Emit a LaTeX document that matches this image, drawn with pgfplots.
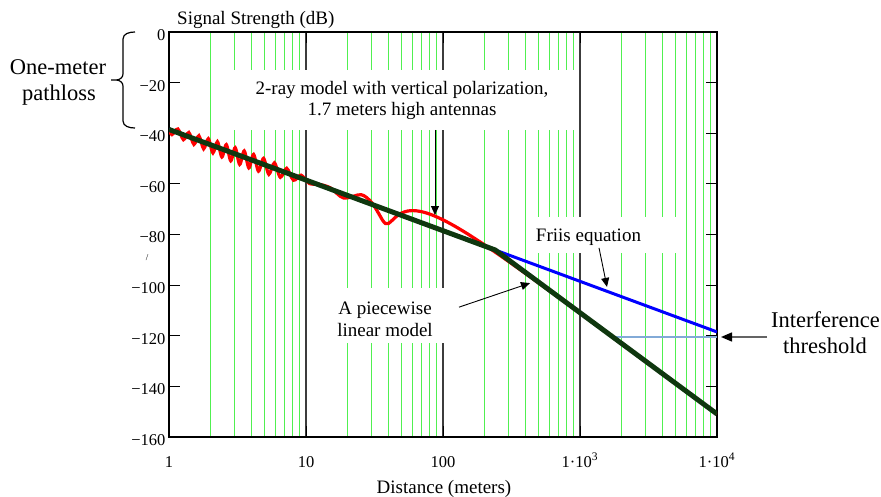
\documentclass[border=0pt]{standalone}
\usepackage{fontspec}
\setmainfont{Liberation Serif}
\usepackage{pgfplots}
\pgfplotsset{compat=1.18}
\usetikzlibrary{arrows.meta}
\definecolor{gridgreen}{RGB}{80,240,80}
\definecolor{decgray}{RGB}{60,60,60}
\definecolor{pwgreen}{RGB}{15,55,15}
\definecolor{thrblue}{RGB}{130,170,215}
\definecolor{arrgray}{RGB}{100,100,100}
\newcommand\annfont{\fontsize{19}{22}\selectfont}
\newcommand\bigfont{\fontsize{22.5}{26}\selectfont}
\begin{document}
\begin{tikzpicture}[x=1pt,y=1pt]
\useasboundingbox (0,0) rectangle (881,496);
\begin{axis}[
  at={(169pt,59pt)}, anchor=south west,
  scale only axis, width=548pt, height=405pt,
  xmode=log, log basis x=10, xmin=1, xmax=10000, ymin=-160, ymax=0,
  xtick={1,10,100,1000,10000},
  xticklabels={1,10,100,1·10\textsuperscript{3},1·10\textsuperscript{4}},
  minor xtick={2,3,4,5,6,7,8,9,20,30,40,50,60,70,80,90,200,300,400,500,600,700,800,900,2000,3000,4000,5000,6000,7000,8000,9000},
  ytick={-160,-140,-120,-100,-80,-60,-40,-20,0},
  yticklabels={−160,−140,−120,−100,−80,−60,−40,−20,0},
  xmajorgrids, xminorgrids,
  major grid style={draw=decgray, line width=1.2pt},
  minor grid style={draw=gridgreen, line width=1pt},
  tick align=inside, major tick length=11pt, minor tick length=0pt,
  tick style={black, line width=1pt},
  axis line style={line width=1.2pt},
  ticklabel style={font=\fontsize{16.5}{18}\selectfont},
  xticklabel style={anchor=base, yshift=-30pt},
  yticklabel style={yshift=-3pt},
]
\addplot[red, line width=3.2pt, smooth, tension=0.5] coordinates {
(1,-38.47) (1.0506,-40.55) (1.1606,-38.32) (1.2753,-42.55) (1.3951,-39.70)
(1.5204,-44.40) (1.6522,-40.97) (1.7907,-46.14) (1.937,-42.17) (2.0921,-47.79)
(2.2569,-43.34) (2.4325,-49.37) (2.6208,-44.50) (2.8236,-50.88) (3.0428,-45.71)
(3.2808,-52.33) (3.5413,-46.98) (3.8278,-53.70) (4.1452,-48.36) (4.5002,-55.00)
(4.9004,-49.91) (5.3562,-56.23) (5.8816,-51.70) (6.4958,-57.41) (7.2251,-53.85)
(8.1082,-58.58) (9.2026,-56.56) (10.599,-59.87) (12.447,-60.18) (15.02,-61.53)
(18.861,-65.60) (25.237,-64.26) (30,-67.23) (34,-71.78) (36,-74.15)
(37.95,-75.62) (40,-75.65) (43,-74.18) (46,-72.73) (50,-71.49)
(55,-70.75) (60,-70.56) (65,-70.69) (70,-71.00) (76,-71.53)
(85,-72.48) (100,-74.21) (120,-76.50) (150,-79.64) (200,-84.03)
(250,-87.60) (300,-90.59) (400,-95.39) (500,-99.16) (700,-104.90)
(1000,-111.02) (2000,-122.99) (5000,-138.86) (10000,-150.90)
};
\addplot[thrblue, line width=1.5pt] coordinates {(1800,-120.5) (10000,-120.5)};
\addplot[blue, line width=3pt] coordinates {(1,-38.5) (10000,-118.5)};
\addplot[pwgreen, line width=5pt] coordinates {(1,-38.5) (240,-86.1) (10000,-150.9)};
\coordinate (r1) at (axis cs:87.4,-38.7);
\coordinate (r2) at (axis cs:87.4,-72.3);
\coordinate (f1) at (axis cs:1377,-85.3);
\coordinate (f2) at (axis cs:1574,-100.7);
\coordinate (p1) at (axis cs:130.9,-108.7);
\coordinate (p2) at (axis cs:431.6,-99.2);
\end{axis}
% text boxes
\fill[white] (222,366) rectangle (575,426);
\fill[white] (530,243) rectangle (685,279);
\fill[white] (322,153) rectangle (465,208);
\node[anchor=base, inner sep=0, font=\annfont] at (402,401) {2-ray model with vertical polarization,};
\node[anchor=base, inner sep=0, font=\annfont] at (402,380) {1.7 meters high antennas};
\node[anchor=base, inner sep=0, font=\annfont] at (588.5,254) {Friis equation};
\node[anchor=base, inner sep=0, font=\annfont] at (385,182) {A piecewise};
\node[anchor=base, inner sep=0, font=\annfont] at (385,160) {linear model};
\draw[line width=0.9pt, -{Triangle[length=9pt,width=8pt]}] (r1) -- (r2);
\draw[line width=0.9pt, -{Triangle[length=9pt,width=8pt]}] (f1) -- (f2);
\draw[line width=0.9pt, -{Triangle[length=9pt,width=8pt]}] (p1) -- (p2);
% outside labels
\node[anchor=base, inner sep=0, font=\bigfont] at (825.5,169) {Interference};
\node[anchor=base, inner sep=0, font=\bigfont] at (825,143) {threshold};
\draw[arrgray, line width=1.5pt, -{Triangle[length=11pt,width=9pt,color=black]}] (767,159) -- (721,159);
\node[anchor=base, inner sep=0, font=\bigfont] at (58,421) {One-meter};
\node[anchor=base, inner sep=0, font=\bigfont] at (59,395) {pathloss};
\draw[line width=1.2pt] (135,464) to[out=180,in=90] (123,457) -- (123,422)
  to[out=-90,in=0] (116,416) -- (111,416) -- (116,416)
  to[out=0,in=90] (123,410) -- (123,375) to[out=-90,in=180] (135,368);
\node[anchor=base west, inner sep=0, font=\annfont] at (177,471) {Signal Strength (dB)};
\node[anchor=base, inner sep=0, font=\annfont] at (444,3) {Distance (meters)};
\node[inner sep=0, font=\fontsize{9}{9}\selectfont] at (147,238) {/};
\end{tikzpicture}
\end{document}
